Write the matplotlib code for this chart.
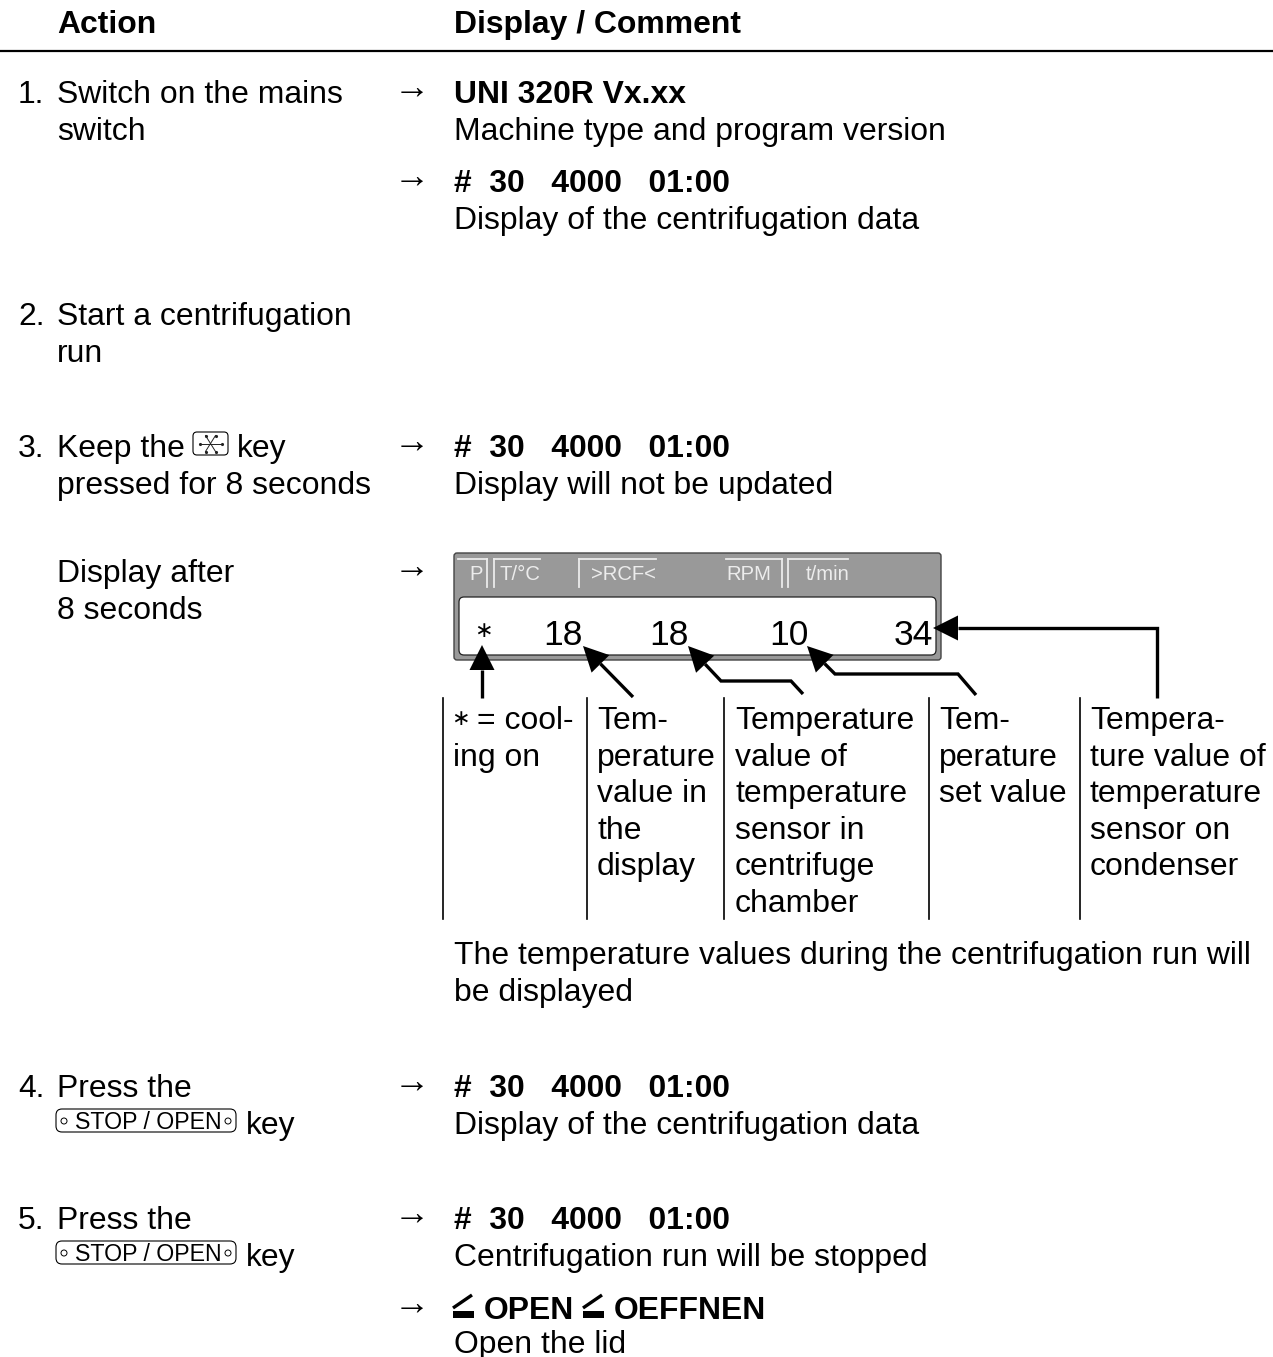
import matplotlib
matplotlib.use('Agg')
import matplotlib.pyplot as plt
from matplotlib.patches import FancyBboxPatch, Circle, Polygon
import numpy as np

plt.rcParams['font.family'] = ['Liberation Sans', 'DejaVu Sans']

W, H = 1273, 1357
FS = 22.95

headers = ['Action', 'Display / Comment']
step_numbers = ['1.', '2.', '3.', '4.', '5.']
step_lines = [
    ['Switch on the mains', 'switch'],
    ['Start a centrifugation', 'run'],
    ['Keep the', 'pressed for 8 seconds'],
    ['Press the'],
    ['Press the'],
]
after_lines = ['Display after', '8 seconds']
display_bold = ['UNI 320R Vx.xx', '#  30   4000   01:00', '#  30   4000   01:00',
                '#  30   4000   01:00', '#  30   4000   01:00']
display_plain = ['Machine type and program version', 'Display of the centrifugation data',
                 'Display will not be updated', 'Display of the centrifugation data',
                 'Centrifugation run will be stopped']
open_bold = ['OPEN', 'OEFFNEN']
open_plain = 'Open the lid'
note_lines = ['The temperature values during the centrifugation run will', 'be displayed']
panel_labels = ['P', 'T/°C', '>RCF<', 'RPM', 't/min']
panel_values = ['18', '18', '10', '34']
cooling_first = '= cool-'
columns = [
    ['', 'ing on'],
    ['Tem-', 'perature', 'value in', 'the', 'display'],
    ['Temperature', 'value of', 'temperature', 'sensor in', 'centrifuge', 'chamber'],
    ['Tem-', 'perature', 'set value'],
    ['Tempera-', 'ture value of', 'temperature', 'sensor on', 'condenser'],
]

fig = plt.figure(figsize=(W / 100, H / 100), dpi=100)
ax = fig.add_axes([0, 0, 1, 1])
ax.set_xlim(0, W)
ax.set_ylim(H, 0)
ax.axis('off')


def txt(x, y, s, **kw):
    kw.setdefault('fontsize', FS)
    kw.setdefault('color', 'black')
    ax.text(x, y, s, va='baseline', **kw)


def arrow_path(xs, ys, lw=2.4, size=25):
    # head is a filled triangle with its tip on the last point
    d = np.array([xs[-1] - xs[-2], ys[-1] - ys[-2]], dtype=float)
    d /= np.hypot(*d)
    n = np.array([-d[1], d[0]])
    tip = np.array([xs[-1], ys[-1]], dtype=float)
    base = tip - d * size
    ax.plot(list(xs[:-1]) + [base[0]], list(ys[:-1]) + [base[1]], color='black', lw=lw,
            solid_joinstyle='miter', solid_capstyle='butt')
    ax.add_patch(Polygon([tip, base + n * size / 2, base - n * size / 2], fc='black', ec='none'))


def stop_key(x, y):
    ax.add_patch(FancyBboxPatch((x, y - 25), 180, 23, boxstyle='round,pad=0,rounding_size=6',
                                fc='white', ec='black', lw=0.8))
    ax.add_patch(Circle((x + 8, y - 13), 3, fc='white', ec='black', lw=0.7))
    ax.add_patch(Circle((x + 172, y - 13), 3, fc='white', ec='black', lw=0.7))
    txt(x + 19, y - 5, 'STOP / OPEN', fontsize=16.7)


def open_sign(x, y):
    ax.plot([x, x + 19], [y - 11, y - 24], color='black', lw=2.4, solid_capstyle='butt')
    ax.add_patch(Polygon([(x, y - 8), (x + 21, y - 8), (x + 21, y - 1), (x, y - 1)], fc='black', ec='none'))


# header
txt(57, 33, headers[0], fontweight='bold')
txt(454, 33, headers[1], fontweight='bold')
ax.plot([0, W], [51, 51], color='black', lw=1.6)

# steps on the left
step_y = [103, 325, 457, 1097, 1229]
for num, lines, y in zip(step_numbers, step_lines, step_y):
    txt(18, y, num)
    for i, line in enumerate(lines):
        txt(57, y + 37 * i, line)
txt(57, 582, after_lines[0])
txt(57, 619, after_lines[1])

# cooling key glyph
ax.add_patch(FancyBboxPatch((193, 432), 35, 23, boxstyle='round,pad=0,rounding_size=4',
                            fc='white', ec='black', lw=0.8))
for dx, dy in [(11, 0), (5, 8), (5, -8)]:
    ax.plot([210.5 - dx, 210.5 + dx], [443.5 - dy, 443.5 + dy], color='#222222', lw=0.7,
            marker='.', markersize=2.5)
txt(237, 457, 'key')

# stop/open keys
for y in [1134, 1266]:
    stop_key(56, y)
    txt(246, y, 'key')

# display column
arrow_y = [103, 192, 457, 582, 1097, 1229, 1319]
for y in arrow_y:
    txt(411.5, y - 4, '→', ha='center', fontsize=26)
bold_y = [103, 192, 457, 1097, 1229]
for b, p, y in zip(display_bold, display_plain, bold_y):
    txt(454, y, b, fontweight='bold')
    txt(454, y + 37, p)

# open lid line
open_sign(453, 1319)
open_sign(583, 1319)
txt(484, 1319, open_bold[0], fontweight='bold')
txt(614, 1319, open_bold[1], fontweight='bold')
txt(454, 1353, open_plain)

# display panel
ax.add_patch(FancyBboxPatch((454, 553), 487, 107, boxstyle='round,pad=0,rounding_size=3',
                            fc='#999999', ec='#444444', lw=1.0))
ax.add_patch(FancyBboxPatch((459, 597), 477, 58, boxstyle='round,pad=0,rounding_size=5',
                            fc='white', ec='#222222', lw=0.9))
white = '#ececec'
for s, x in zip(panel_labels, [469, 500, 591, 726, 806]):
    txt(x, 580, s, fontsize=14.6, color=white)
for x0, x1 in [(458, 487), (494, 540), (579, 656), (726, 782), (788, 848)]:
    ax.plot([x0, x1], [558.5, 558.5], color=white, lw=1.3)
for x in [487, 494, 579, 782, 788]:
    ax.plot([x, x], [558.5, 587], color=white, lw=1.3)
txt(483, 637, '∗', fontsize=16, ha='center')
for s, x in zip(panel_values, [583, 689, 809, 933]):
    txt(x, 645, s, fontsize=25.5, ha='right')

# arrows to the panel values
arrow_path([482, 482], [698, 645])
arrow_path([633, 583], [697, 646])
arrow_path([803, 791, 721, 688], [694, 681, 681, 646])
arrow_path([976, 958, 835, 807], [695, 674, 674, 646])
arrow_path([1157, 1157, 933], [698, 628, 628])

# columns below the panel
col_x = [443, 587, 724, 929, 1080]
col_text_x = [453, 597, 735, 939, 1090]
for x, tx, lines in zip(col_x, col_text_x, columns):
    ax.plot([x, x], [698, 919], color='black', lw=1.2)
    for i, line in enumerate(lines):
        if line:
            txt(tx, 729 + 36.6 * i, line)
txt(460.5, 725, '∗', fontsize=16, ha='center')
txt(477, 729, cooling_first)

# note under the panel
txt(454, 964, note_lines[0])
txt(454, 1001, note_lines[1])

fig.savefig('out.png', dpi=100, facecolor='white')
